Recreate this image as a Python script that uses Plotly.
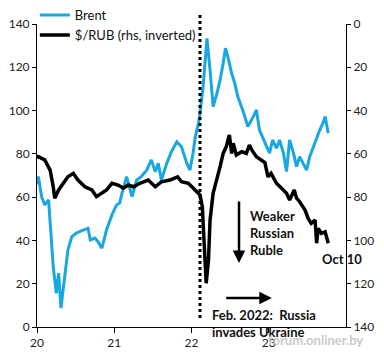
import plotly.graph_objects as go

# Brent (lhs), fractional years
brent_t = [20.00, 20.017, 20.06, 20.10, 20.15, 20.17, 20.21, 20.25, 20.28, 20.31, 20.36, 20.40,
           20.45, 20.51, 20.58, 20.66, 20.69, 20.75, 20.79, 20.84, 20.90, 20.97, 21.03, 21.07,
           21.10, 21.16, 21.23, 21.29, 21.35, 21.42, 21.48, 21.53, 21.57, 21.61, 21.68, 21.74,
           21.81, 21.87, 21.94, 21.98, 22.02, 22.05, 22.09, 22.11, 22.15, 22.20, 22.24, 22.28,
           22.33, 22.37, 22.41, 22.44, 22.47, 22.52, 22.56, 22.60, 22.67, 22.73, 22.80, 22.84,
           22.88, 22.95, 23.01, 23.05, 23.10, 23.14, 23.19, 23.23, 23.27, 23.32, 23.36, 23.40,
           23.45, 23.49, 23.53, 23.58, 23.62, 23.66, 23.70, 23.73, 23.77]
brent_v = [66.0, 69.5, 60.2, 56.4, 58.7, 49.4, 27.9, 15.6, 24.9, 8.8, 24.9, 35.6,
           41.7, 43.4, 44.5, 45.6, 40.2, 41.1, 39.4, 36.4, 44.8, 51.8, 56.4, 57.3,
           61.8, 69.5, 60.2, 67.9, 69.5, 72.5, 77.2, 71.8, 75.6, 67.9, 75.6, 81.0,
           85.6, 83.3, 75.6, 72.5, 80.3, 88.0, 94.1, 98.7, 111.0, 133.4, 118.8, 101.8,
           108.0, 114.1, 121.9, 128.8, 124.9, 117.2, 112.6, 106.4, 99.5, 92.6, 97.2, 100.3,
           91.0, 84.9, 80.3, 86.4, 82.6, 86.4, 80.3, 71.8, 86.4, 80.3, 74.1, 78.7,
           74.9, 72.5, 78.7, 83.3, 87.9, 91.0, 94.1, 97.2, 89.5]

# $/RUB (rhs, inverted)
rub_t = [20.00, 20.017, 20.10, 20.17, 20.21, 20.23, 20.28, 20.34, 20.40, 20.47, 20.53, 20.62,
         20.71, 20.77, 20.84, 20.90, 20.97, 21.05, 21.12, 21.18, 21.25, 21.33, 21.44, 21.53,
         21.61, 21.72, 21.82, 21.87, 21.96, 22.00, 22.07, 22.11, 22.14, 22.16, 22.19, 22.22,
         22.24, 22.28, 22.33, 22.37, 22.41, 22.45, 22.49, 22.52, 22.54, 22.58, 22.65, 22.71,
         22.75, 22.78, 22.84, 22.90, 22.95, 22.99, 23.03, 23.10, 23.17, 23.23, 23.27, 23.33,
         23.36, 23.40, 23.47, 23.51, 23.55, 23.60, 23.62, 23.64, 23.68, 23.73, 23.77]
rub_v = [61.9, 61.3, 62.8, 67.5, 75.2, 80.5, 76.7, 73.6, 70.6, 69.0, 72.1, 75.2,
         76.7, 79.8, 78.2, 76.7, 73.6, 74.4, 75.9, 74.4, 75.2, 73.6, 72.1, 75.2,
         72.9, 72.1, 70.6, 72.9, 73.6, 75.2, 77.5, 79.0, 84.4, 98.3, 119.8, 109.0,
         90.6, 78.2, 72.1, 65.9, 59.8, 56.7, 51.3, 59.8, 55.1, 60.5, 59.0, 59.8,
         55.9, 58.2, 61.3, 62.8, 64.0, 70.6, 69.0, 73.6, 75.9, 78.2, 81.3, 76.7,
         80.5, 82.1, 86.0, 89.8, 92.1, 90.6, 101.3, 94.4, 96.7, 96.0, 101.3]

year_ticks = [20, 21, 22, 23]
year_labels = ["20", "21", "22", "23"]
invasion = 22.11

FONT = "Lato"
fig = go.Figure()
fig.add_trace(go.Scatter(x=brent_t, y=brent_v, mode="lines", name="Brent",
                         line=dict(color="#18A7E0", width=3), legendgroup="a"))
fig.add_trace(go.Scatter(x=rub_t, y=rub_v, mode="lines", name="$/RUB (rhs, inverted)",
                         line=dict(color="black", width=3.5), yaxis="y2", legendgroup="b"))

fig.add_shape(type="line", xref="x", yref="paper", x0=invasion, x1=invasion, y0=0.03, y1=1.033,
              line=dict(color="black", width=3, dash="dot"))

ann = []
ann.append(dict(x=22.615, y=29.6, ax=22.615, ay=58.7, xref="x", yref="y", axref="x", ayref="y",
                showarrow=True, arrowhead=2, arrowsize=1, arrowwidth=2.5, arrowcolor="black", text=""))
ann.append(dict(x=23.04, y=13.4, ax=22.43, ay=13.4, xref="x", yref="y", axref="x", ayref="y",
                showarrow=True, arrowhead=2, arrowsize=1, arrowwidth=2.5, arrowcolor="black", text=""))
ann.append(dict(x=22.73, y=43.4, xref="x", yref="y", xanchor="left", yanchor="middle", showarrow=False,
                text="<b>Weaker<br>Russian<br>Ruble</b>", align="left",
                font=dict(family=FONT, size=13, color="#111")))
ann.append(dict(x=23.95, y=31.4, xref="x", yref="y", xanchor="center", yanchor="middle", showarrow=False,
                text="<b>Oct 10</b>", font=dict(family=FONT, size=13, color="#111")))
ann.append(dict(x=22.24, y=1.4, xref="x", yref="y", xanchor="left", yanchor="middle", showarrow=False,
                text="<b>Feb. 2022:  Russia<br>invades Ukraine</b>", align="left",
                font=dict(family=FONT, size=13, color="#111")))
ann.append(dict(x=1.06, y=-0.043, xref="paper", yref="paper", xanchor="right", yanchor="middle", showarrow=False,
                text="<b>forum.onliner.by</b>", font=dict(family=FONT, size=13, color="rgba(190,190,190,0.85)")))

fig.update_layout(
    width=384, height=360,
    margin=dict(l=37, r=38, t=24, b=33, autoexpand=False),
    paper_bgcolor="white", plot_bgcolor="white",
    font=dict(family=FONT, size=12, color="#222"),
    showlegend=True,
    legend=dict(x=-0.007, y=1.079, xanchor="left", yanchor="top", bgcolor="rgba(0,0,0,0)",
                font=dict(family=FONT, size=13, color="#111"), tracegroupgap=0),
    xaxis=dict(range=[20, 24], tickvals=year_ticks, ticktext=year_labels, showgrid=False,
               zeroline=False, showline=True, linecolor="black", linewidth=1,
               ticks="outside", ticklen=5, tickcolor="black"),
    yaxis=dict(range=[0, 140], dtick=20, showgrid=False, zeroline=False, showline=True,
               linecolor="black", linewidth=1, ticks="outside", ticklen=4, tickcolor="black"),
    yaxis2=dict(range=[140, 0], dtick=20, overlaying="y", side="right", showgrid=False,
                zeroline=False, showline=True, linecolor="black", linewidth=1,
                ticks="outside", ticklen=4, tickcolor="black"),
    annotations=ann,
)
# remove the browser's default 8px page margin so the figure fills the window exactly
fig.write_html("out.html", config={"displayModeBar": False},
               post_script="document.body.style.margin='0';document.body.style.overflow='hidden';")
